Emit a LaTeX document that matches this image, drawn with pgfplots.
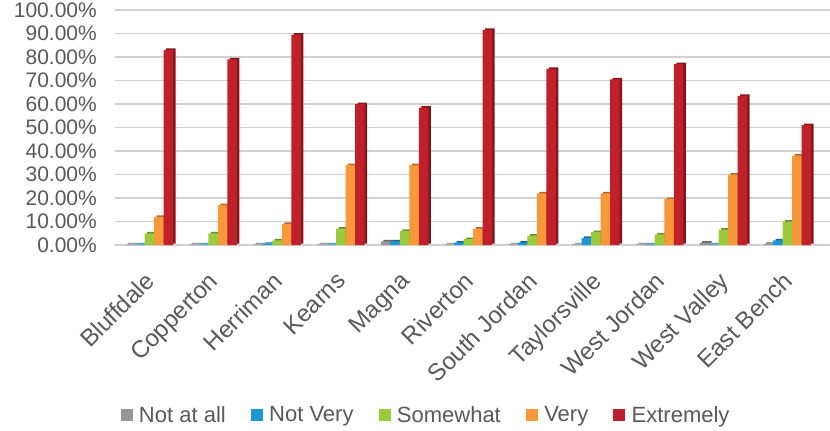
\documentclass[border=0pt]{standalone}
\usepackage{pgfplots}
\pgfplotsset{compat=1.18}
\usepackage{fontspec}
\setmainfont{Liberation Sans}
\definecolor{cgray}{HTML}{969696}
\definecolor{cblue}{HTML}{1C96D4}
\definecolor{cgreen}{HTML}{9ACB3C}
\definecolor{corange}{HTML}{F7983A}
\definecolor{cred}{HTML}{C0202A}
\definecolor{txt}{HTML}{595959}
\pgfplotsset{
  bar3d/.style={fill=#1, draw=none,
    preaction={fill=#1!70!black, transform canvas={shift={(2.5bp,1.5bp)}}}},
  sq/.style={legend image code/.code={\fill[#1] (0bp,-5.5bp) rectangle (11bp,5.5bp);}},
}
\pgfplotstableread{
x notatall notvery somewhat very extremely
0  0.3 0.3 5   12   83
1  0.3 0.3 5   17   79
2  0.3 0.5 2   9    89.5
3  0.3 0.3 7   34   60
4  1.5 1.5 6   34   58.5
5  0.3 1   2.5 7    91.5
6  0.3 1   4   22   75
7  0.3 3   5.5 22   70.5
8  0.3 0.3 4.5 19.5 77
9  1   0.3 6.5 30   63.5
10 0.5 2   10  38   51
}\data
\begin{document}
\begin{tikzpicture}
\path[use as bounding box] (-115bp,-186bp) rectangle (715bp,245bp);
\begin{axis}[
  at={(0,0)}, anchor=south west,
  scale only axis, width=715bp, height=235bp,
  ybar=0pt, bar width=9.5bp,
  xmin=-0.54, xmax=10.67, ymin=0, ymax=100,
  xtick=data,
  xticklabels={Bluffdale,Copperton,Herriman,Kearns,Magna,Riverton,South Jordan,Taylorsville,West Jordan,West Valley,East Bench},
  ytick={0,10,...,100},
  ymajorgrids, major grid style={color=black!18, line width=1.5bp},
  axis line style={draw=none},
  major tick length=0pt,
  /pgf/number format/assume math mode=true,
  yticklabel={\pgfmathprintnumber[fixed,fixed zerofill,precision=2]{\tick}\%},
  yticklabel style={font=\fontsize{21bp}{24bp}\selectfont, text=txt, anchor=east, inner sep=0pt, xshift=-18bp},
  xticklabel style={font=\fontsize{24bp}{27bp}\selectfont, text=txt, rotate=45, anchor=north east, inner sep=0pt, yshift=-14bp, xshift=-22bp},
  legend style={at={(0.435,-0.723)}, anchor=center, draw=none, fill=none,
    font=\fontsize{22bp}{25bp}\selectfont, text=txt,
    legend columns=5,
    /tikz/every odd column/.append style={column sep=5bp},
    /tikz/every even column/.append style={column sep=23bp}},
  legend cell align=left,
]
\addlegendimage{sq=cgray}
\addlegendimage{sq=cblue}
\addlegendimage{sq=cgreen}
\addlegendimage{sq=corange}
\addlegendimage{sq=cred}
\addplot[bar3d=cgray] table[x=x,y=notatall]{\data};
\addplot[bar3d=cblue] table[x=x,y=notvery]{\data};
\addplot[bar3d=cgreen] table[x=x,y=somewhat]{\data};
\addplot[bar3d=corange] table[x=x,y=very]{\data};
\addplot[bar3d=cred] table[x=x,y=extremely]{\data};
\legend{Not at all,Not Very,Somewhat,Very,Extremely}
\end{axis}
\end{tikzpicture}
\end{document}
